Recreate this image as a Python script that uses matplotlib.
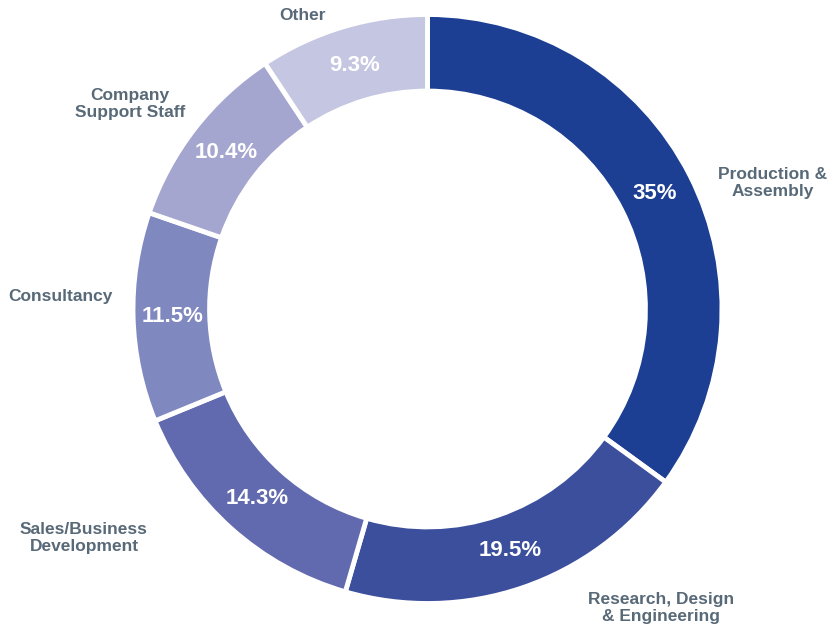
import numpy as np
import matplotlib.pyplot as plt

# --- data ---
categories = [
    "Production &\nAssembly",
    "Research, Design\n& Engineering",
    "Sales/Business\nDevelopment",
    "Consultancy",
    "Company\nSupport Staff",
    "Other",
]
shares = [35, 19.5, 14.3, 11.5, 10.4, 9.3]
pct_labels = ["35%", "19.5%", "14.3%", "11.5%", "10.4%", "9.3%"]
colors = ["#1c3f94", "#3c4f9c", "#626aaf", "#8088c0", "#a5a6cf", "#c5c6e2"]

# where the category names sit (pixels, y measured from the top)
label_pos = [(773, 183), (661, 608), (84, 538), (60, 297), (130, 104), (302, 15)]

W, H = 831, 630
CX, CY, R = 427.5, H - 309, 294.5
RING = 0.26
TEXT_COLOR = "#586978"

plt.rcParams["font.family"] = ["Liberation Sans", "DejaVu Sans"]

fig = plt.figure(figsize=(W / 100, H / 100), dpi=100)
ax = fig.add_axes([0, 0, 1, 1])

wedges, _ = ax.pie(
    shares,
    colors=colors,
    startangle=90,
    counterclock=False,
    radius=R,
    center=(CX, CY),
    wedgeprops=dict(width=R * RING, edgecolor="white", linewidth=3.5),
    frame=True,
)
ax.set_xlim(0, W)
ax.set_ylim(0, H)
ax.set_aspect("equal")
ax.axis("off")

# percentage labels in the middle of the ring
for w, txt in zip(wedges, pct_labels):
    mid = np.deg2rad((w.theta1 + w.theta2) / 2)
    rr = R * 0.865
    ax.text(CX + rr * np.cos(mid), CY + rr * np.sin(mid), txt,
            ha="center", va="center", color="white", fontsize=16, fontweight="bold")

# category names outside
for (x, y), name in zip(label_pos, categories):
    ax.text(x, H - y, name, ha="center", va="center", color=TEXT_COLOR,
            fontsize=12.5, fontweight="bold", linespacing=1.2)

fig.savefig("out.png", dpi=100)
